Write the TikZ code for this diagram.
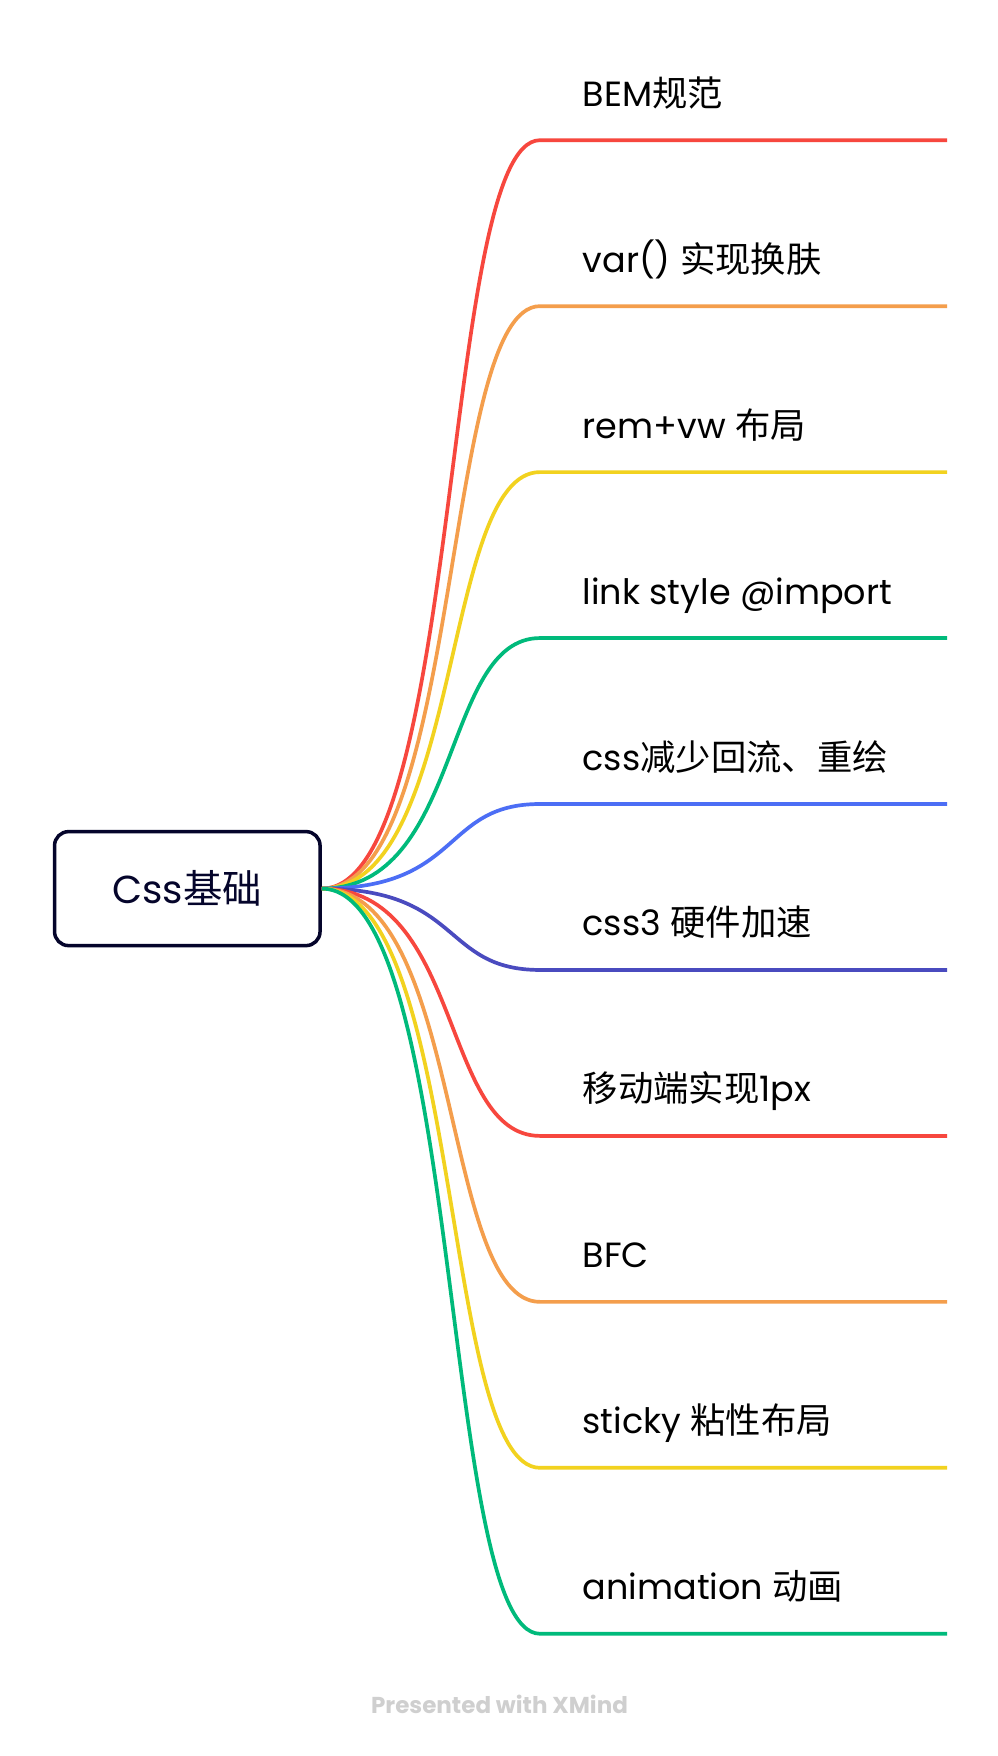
\documentclass[tikz,border=0pt]{standalone}
\usepackage{fontspec}
\setmainfont{Poppins}
\newfontfamily\cjkfont{Noto Sans CJK SC}[Scale=1.01]
\newcommand{\zh}[1]{{\cjkfont #1}}
\definecolor{cred}{HTML}{F7473E}
\definecolor{corange}{HTML}{F49E4C}
\definecolor{cyellow}{HTML}{F2D21F}
\definecolor{cgreen}{HTML}{00BA7B}
\definecolor{cblue}{HTML}{4C6EF5}
\definecolor{cindigo}{HTML}{4A4BBF}
\definecolor{navy}{HTML}{05052B}
\definecolor{footgray}{HTML}{CFCFCF}
\begin{document}
\begin{tikzpicture}[x=1pt,y=-1pt,
  branch/.style={line width=3.7pt},
  lbl/.style={anchor=base west, inner sep=0pt, font=\fontsize{35}{42}\selectfont, text=black}]
\useasboundingbox[fill=white] (0,0) rectangle (998,1756);
\node[draw=navy, line width=3.5pt, rounded corners=14pt, minimum width=265.5pt, minimum height=114pt,
  font=\fontsize{39}{46}\selectfont, text=navy, inner sep=0pt] (root) at (187.3,888.6) {Css\zh{基础}};
% branch end points
\foreach \i/\y in {1/140.2,2/306.15,3/472.1,4/638.05,5/804.0,6/969.95,7/1135.9,8/1301.85,9/1467.8,10/1633.75}{
  \coordinate (s\i) at (540,\y);
  \coordinate (e\i) at (947,\y);
}
\foreach \i/\y/\c in {1/140.2/cred,2/306.15/corange,3/472.1/cyellow,4/638.05/cgreen,5/804.0/cblue,6/969.95/cindigo,7/1135.9/cred,8/1301.85/corange,9/1467.8/cyellow,10/1633.75/cgreen}{
  \draw[branch,\c] (root.east) .. controls (463,888.6) and (441,\y) .. (s\i) -- (e\i);
}
\node[lbl] (t1) at (582.5,106.2) {BEM\zh{规范}};
\node[lbl] (t2) at (582.5,272.15) {var() \zh{实现换肤}};
\node[lbl] (t3) at (582.5,438.1) {rem+vw \zh{布局}};
\node[lbl] (t4) at (582.5,604.05) {link style @import};
\node[lbl] (t5) at (582.5,770.0) {css\zh{减少回流、重绘}};
\node[lbl] (t6) at (582.5,935.95) {css3 \zh{硬件加速}};
\node[lbl] (t7) at (582.5,1101.9) {\zh{移动端实现}1px};
\node[lbl] (t8) at (582.5,1267.85) {BFC};
\node[lbl] (t9) at (582.5,1433.8) {sticky \zh{粘性布局}};
\node[lbl] (t10) at (582.5,1599.75) {animation \zh{动画}};
\node[anchor=base, inner sep=0pt, font=\bfseries\fontsize{23}{28}\selectfont, text=footgray] (foot) at (499.5,1713) {Presented with XMind};
\end{tikzpicture}
\end{document}
